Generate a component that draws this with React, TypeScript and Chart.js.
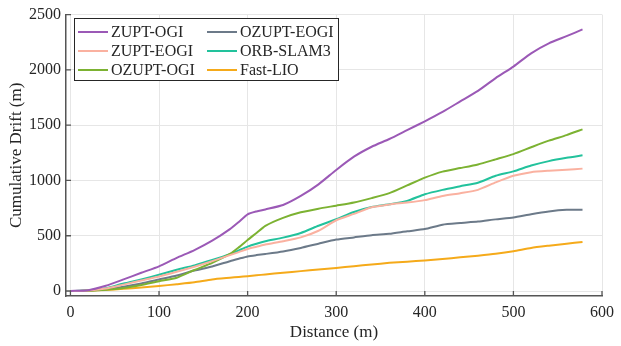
import React, { useEffect, useRef } from "react";
import { Chart, registerables } from "chart.js";

Chart.register(...registerables);

const distance = [0, 20, 40, 60, 80, 100, 120, 140, 160, 180, 190, 200, 210, 220, 240, 260, 280, 300, 320, 340, 360, 380, 400, 420, 440, 460, 480, 500, 520, 540, 560, 578];

const zuptOgi = [0, 8, 48, 105, 165, 223, 300, 370, 455, 560, 625, 694, 720, 738, 778, 860, 965, 1095, 1215, 1305, 1375, 1455, 1535, 1620, 1715, 1810, 1926, 2030, 2150, 2240, 2305, 2366];
const zuptEogi = [0, 5, 22, 58, 95, 132, 175, 220, 270, 325, 352, 380, 400, 420, 450, 485, 545, 640, 698, 757, 783, 800, 822, 860, 885, 915, 982, 1042, 1075, 1088, 1097, 1107];
const ozuptOgi = [0, 3, 12, 28, 55, 89, 120, 190, 255, 335, 395, 462, 525, 590, 662, 712, 745, 772, 800, 840, 885, 955, 1025, 1080, 1112, 1145, 1191, 1238, 1300, 1360, 1410, 1462];
const ozuptEogi = [0, 4, 16, 38, 68, 104, 140, 185, 222, 270, 292, 313, 325, 335, 358, 390, 428, 465, 485, 505, 517, 540, 560, 600, 615, 628, 648, 665, 695, 720, 735, 736];
const orbSlam3 = [0, 6, 25, 68, 105, 147, 192, 232, 280, 333, 368, 402, 428, 450, 483, 525, 590, 650, 715, 760, 785, 815, 875, 915, 948, 980, 1042, 1082, 1135, 1175, 1205, 1227];
const fastLio = [0, 3, 10, 20, 32, 45, 62, 80, 105, 120, 127, 134, 142, 150, 165, 180, 195, 209, 225, 240, 255, 265, 277, 290, 305, 320, 337, 360, 390, 410, 428, 444];

const seriesNames = ["ZUPT-OGI", "ZUPT-EOGI", "OZUPT-OGI", "OZUPT-EOGI", "ORB-SLAM3", "Fast-LIO"];
const seriesValues = [zuptOgi, zuptEogi, ozuptOgi, ozuptEogi, orbSlam3, fastLio];
const seriesColors = ["#9b59b6", "#fab1a0", "#7cb232", "#6c7a89", "#22c29c", "#f5aa1a"];

const xTicks = [0, 100, 200, 300, 400, 500, 600];
const yTicks = [0, 500, 1000, 1500, 2000, 2500];

const FONT = "'Liberation Serif', 'Times New Roman', serif";

const decorPlugin = {
  id: "decor",
  afterDraw(chart: any) {
    const ctx = chart.ctx;
    const area = chart.chartArea;
    const xs = chart.scales.x;
    const ys = chart.scales.y;
    ctx.save();
    ctx.strokeStyle = "#555555";
    ctx.lineWidth = 1.3;
    ctx.beginPath();
    xTicks.forEach((v) => {
      const px = xs.getPixelForValue(v);
      ctx.moveTo(px, area.bottom);
      ctx.lineTo(px, area.bottom - 5);
    });
    yTicks.forEach((v) => {
      const py = ys.getPixelForValue(v);
      ctx.moveTo(area.left, py);
      ctx.lineTo(area.left + 5, py);
    });
    ctx.stroke();

    const bx = 74.5, by = 18.5, bw = 264, bh = 62;
    ctx.fillStyle = "#ffffff";
    ctx.fillRect(bx, by, bw, bh);
    ctx.strokeStyle = "#262626";
    ctx.lineWidth = 1;
    ctx.strokeRect(bx, by, bw, bh);
    ctx.font = "16px " + FONT;
    ctx.textBaseline = "middle";
    ctx.textAlign = "left";
    const rows = [32, 51, 70];
    const cols = [78, 207];
    chart.data.datasets.forEach((ds: any, i: number) => {
      const col = Math.floor(i / 3);
      const row = i % 3;
      const lx = cols[col];
      const ly = rows[row];
      ctx.strokeStyle = ds.borderColor;
      ctx.lineWidth = 2;
      ctx.beginPath();
      ctx.moveTo(lx, ly);
      ctx.lineTo(lx + 30, ly);
      ctx.stroke();
      ctx.fillStyle = "#262626";
      ctx.fillText(ds.label, lx + 33, ly + 0.5);
    });
    ctx.restore();
  },
};

export default function App() {
  const ref = useRef<HTMLCanvasElement | null>(null);

  useEffect(() => {
    if (!ref.current) return;
    const datasets = seriesNames.map((name, i) => ({
      label: name,
      data: distance.map((d, j) => ({ x: d, y: seriesValues[i][j] })),
      borderColor: seriesColors[i],
      backgroundColor: seriesColors[i],
      borderWidth: 2,
      pointRadius: 0,
      tension: 0.2,
      fill: false,
    }));
    const chart = new Chart(ref.current, {
      type: "line",
      data: { datasets },
      options: {
        animation: false,
        responsive: false,
        maintainAspectRatio: false,
        layout: { padding: { left: 0, right: 13.5, top: 11, bottom: 0 } },
        plugins: {
          legend: { display: false },
          tooltip: { enabled: false },
        },
        scales: {
          x: {
            type: "linear",
            min: -5,
            max: 600,
            afterFit: (s: any) => {
              s.height = 50;
            },
            afterBuildTicks: (s: any) => {
              s.ticks = xTicks.map((v) => ({ value: v }));
            },
            grid: { color: "#e6e6e6", lineWidth: 1, drawTicks: false },
            border: { display: true, color: "#555555", width: 1.5 },
            ticks: {
              padding: 7,
              color: "#262626",
              font: { family: FONT, size: 16 },
              maxRotation: 0,
              callback: (v: any) => String(v),
            },
            title: {
              display: true,
              text: "Distance (m)",
              color: "#262626",
              font: { family: FONT, size: 17 },
              padding: { top: 0, bottom: 3 },
            },
          },
          y: {
            type: "linear",
            min: -45,
            max: 2500,
            afterFit: (s: any) => {
              s.width = 66;
            },
            afterBuildTicks: (s: any) => {
              s.ticks = yTicks.map((v) => ({ value: v }));
            },
            grid: { color: "#e6e6e6", lineWidth: 1, drawTicks: false },
            border: { display: true, color: "#555555", width: 1.5 },
            ticks: {
              padding: 5,
              color: "#262626",
              font: { family: FONT, size: 16 },
              callback: (v: any) => String(v),
            },
            title: {
              display: true,
              text: "Cumulative Drift (m)",
              color: "#262626",
              font: { family: FONT, size: 17 },
              padding: { top: 6, bottom: 0 },
            },
          },
        },
      },
      plugins: [decorPlugin],
    });
    return () => chart.destroy();
  }, []);

  return (
    <div style={{ position: "fixed", left: 0, top: 0, width: 621, height: 346, background: "#ffffff" }}>
      <canvas ref={ref} width={621} height={346} style={{ width: 621, height: 346, display: "block" }} />
    </div>
  );
}
